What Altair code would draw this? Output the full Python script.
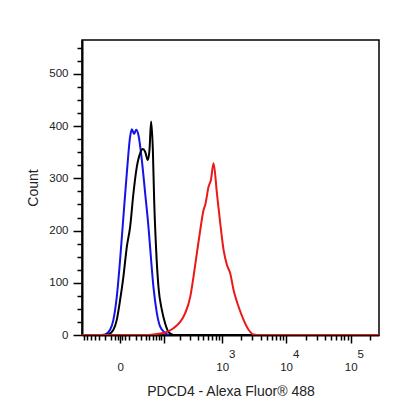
import altair as alt
import pandas as pd

# Intensity values (data units) and counts
x_blue = [-78, -25, -19, -11.6, -7.3, -3.4, 0, 3.4, 7.3, 11.6, 14, 17.5, 20.8, 24.9,
          31.6, 38.9, 47.2, 53.8, 61.6, 73.1, 85.6, 107.6, 134, 275000]
y_blue = [0, 0, 1, 10, 29, 73, 144, 227, 310, 380, 394, 385, 393, 383,
          335, 272, 207, 150, 92, 42, 16, 4, 0, 0]

x_black = [-78, -20, -14, -7.3, -3.4, 0, 3.4, 7.3, 11.6, 16.4, 22.0, 28.1, 33.7,
           38.9, 45.6, 49.9, 54.6, 59.8, 63.9, 70.6, 79.0, 92.6, 107.6, 124.4, 154, 275000]
y_black = [0, 0, 1, 10, 29, 67, 112, 169, 207, 271, 322, 348, 356,
           351, 335, 354, 409, 354, 259, 163, 92, 48, 22, 6, 0, 0]

x_red = [-78, 40, 61, 86, 116, 154, 203, 248, 302, 343, 390, 443, 501, 534, 605,
         661, 728, 825, 932, 1052, 1191, 1343, 1514, 1816, 2176, 2606, 3121, 3972, 275000]
y_red = [0, 0, 1, 3, 6, 13, 25, 42, 73, 112, 157, 201, 239, 249, 284,
         297, 329, 271, 214, 163, 134, 118, 86, 54, 29, 10, 1, 0, 0]

x_major = [0, 100, 1000, 10000, 100000]
x_minor = [-70, -60, -50, -40, -30, -20, -10, -5, -2, 2, 5,
           10, 20, 30, 40, 50, 60, 70, 80, 90,
           200, 300, 400, 500, 600, 700, 800, 900,
           2000, 3000, 4000, 5000, 6000, 7000, 8000, 9000,
           20000, 30000, 40000, 50000, 60000, 70000, 80000, 90000, 200000]
y_ticks = list(range(0, 551, 25))

FONT = "Liberation Sans"
TXT = "#222222"
# zero-width space keeps the no-break spaces from being trimmed
NB = "\u200b" + "\u00a0" * 6

x_scale = alt.Scale(type="symlog", constant=27, domain=[-78, 275000], nice=False, zero=False)
y_scale = alt.Scale(domain=[0, 565], nice=False, zero=False)

label_expr = (
    "datum.value === 0 ? '0' : "
    f"datum.value === 1000 ? ['{NB}3', '10'] : "
    f"datum.value === 10000 ? ['{NB}4', '10'] : "
    f"datum.value === 100000 ? ['{NB}5', '10'] : ''"
)

x_axis = alt.Axis(
    values=sorted(x_major + x_minor),
    title="PDCD4 - Alexa Fluor® 488",
    labelExpr=label_expr,
    labelOverlap=False,
    labelFlush=False,
    labelFont=FONT, labelFontSize=11.5, labelColor=TXT,
    labelLineHeight=13, labelBaseline="top",
    labelPadding={"condition": {"test": "datum.value === 0", "value": 18}, "value": 5},
    tickSize={"condition": {"test": "indexof([0,100,1000,10000,100000], datum.value) >= 0",
                            "value": 8}, "value": 5},
    tickColor="black", tickWidth=1.5,
    domainColor="black", domainWidth=2,
    grid=False,
    titleFont=FONT, titleFontSize=14, titleFontWeight="normal", titleColor=TXT,
    titlePadding=12,
)

y_axis = alt.Axis(
    values=y_ticks,
    title="Count",
    labelExpr="datum.value % 100 === 0 ? datum.label : ''",
    labelOverlap=False,
    labelFlush=False,
    labelFont=FONT, labelFontSize=11.5, labelColor=TXT, labelPadding=5,
    tickSize={"condition": {"test": "datum.value % 100 === 0", "value": 9}, "value": 5},
    tickColor="black", tickWidth=1.5,
    domainColor="black", domainWidth=2,
    grid=False,
    titleFont=FONT, titleFontSize=14, titleFontWeight="normal", titleColor=TXT,
    titlePadding=8,
)


def series(xs, ys, color):
    df = pd.DataFrame({"intensity": xs, "count": ys})
    return alt.Chart(df).mark_line(
        color=color, strokeWidth=2, interpolate="monotone", clip=True
    ).encode(
        x=alt.X("intensity:Q", scale=x_scale, axis=x_axis),
        y=alt.Y("count:Q", scale=y_scale, axis=y_axis),
    )


chart = alt.layer(
    series(x_blue, y_blue, "#1414e6"),
    series(x_black, y_black, "#000000"),
    series(x_red, y_red, "#ec1818"),
).properties(
    width=297, height=295,
    autosize=alt.AutoSizeParams(type="none"),
    padding={"left": 74, "top": 32, "right": 20, "bottom": 76},
    background="white",
).configure_view(stroke="black", strokeWidth=1.5)

chart.save("out.html", embed_options={"renderer": "svg", "actions": False})
